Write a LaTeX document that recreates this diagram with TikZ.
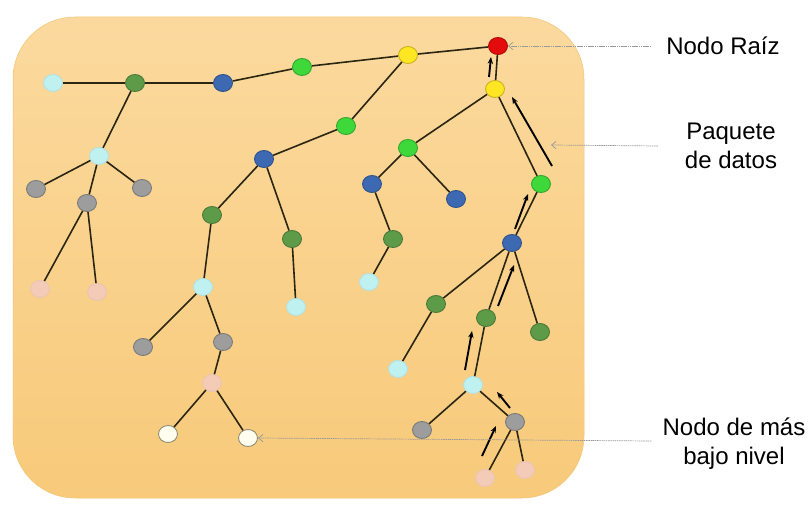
\documentclass[tikz,border=0pt]{standalone}
\usepackage{fontspec}
\setmainfont{Liberation Sans}
\usetikzlibrary{arrows.meta,positioning,shapes.geometric}
\definecolor{boxtop}{HTML}{FBD99E}
\definecolor{boxbot}{HTML}{F8CA7A}
\definecolor{nred}{HTML}{E30B0B}
\definecolor{nyel}{HTML}{FFE622}
\definecolor{nlgreen}{HTML}{3FD83B}
\definecolor{ndgreen}{HTML}{5E9B48}
\definecolor{nblue}{HTML}{3C69B2}
\definecolor{ncyan}{HTML}{BFF1F1}
\definecolor{ngray}{HTML}{9D9D9D}
\definecolor{npink}{HTML}{F3CBB7}
\definecolor{nwhite}{HTML}{FFFFF0}
\definecolor{edgec}{HTML}{2A2612}

\begin{document}
\begin{tikzpicture}[x=1pt, y=-1pt, nd/.style={ellipse, draw=#1!78!black, fill=#1, line width=0.9pt, minimum width=19pt, minimum height=17pt, inner sep=0pt}, ln/.style={draw=edgec, line width=1.6pt}, pkt/.style={line width=1.9pt, -{Stealth[length=2.4mm, width=1.9mm]}}, lead/.style={draw=gray!80, line width=0.7pt, dash pattern=on 1.5pt off 0.7pt, -{Straight Barb[length=1.6mm, width=2.6mm]}}, lab/.style={align=center, font=\fontsize{24}{29}\selectfont, inner sep=0pt}]
\useasboundingbox (0,0) rectangle (808,518);
\shade[top color=boxtop, bottom color=boxbot, draw=boxbot!90!brown, line width=0.5pt, rounded corners=62pt] (13,17) rectangle (584,498);

% nodes of the tree
\node[nd=nred] (root) at (498,46) {};
\node[nd=nyel] (y1) at (408,55) {}; \node[nd=nyel] (y2) at (495,89) {};
\node[nd=nlgreen] (g1) at (302,67) {}; \node[nd=nlgreen] (g2) at (346,126) {};
\node[nd=nlgreen] (g3) at (408,148) {}; \node[nd=nlgreen] (g4) at (541,184) {};
\node[nd=nblue] (b1) at (223,83) {}; \node[nd=nblue] (b2) at (264,159) {};
\node[nd=nblue] (b3) at (372,184) {}; \node[nd=nblue] (b4) at (456,199) {};
\node[nd=nblue] (b5) at (512,243) {};
\node[nd=ndgreen] (d1) at (135,83) {}; \node[nd=ndgreen] (d2) at (212,215) {};
\node[nd=ndgreen] (d3) at (292,239) {}; \node[nd=ndgreen] (d4) at (393,239) {};
\node[nd=ndgreen] (d5) at (436,304) {}; \node[nd=ndgreen] (d6) at (486,318) {};
\node[nd=ndgreen] (d7) at (540,332) {};
\node[nd=ncyan, draw=ncyan!85!gray] (c1) at (53,83) {}; \node[nd=ncyan, draw=ncyan!85!gray] (c2) at (99,156) {};
\node[nd=ncyan, draw=ncyan!85!gray] (c3) at (203,287) {}; \node[nd=ncyan, draw=ncyan!85!gray] (c4) at (296,307) {};
\node[nd=ncyan, draw=ncyan!85!gray] (c5) at (369,282) {}; \node[nd=ncyan, draw=ncyan!85!gray] (c6) at (398,369) {};
\node[nd=ncyan, draw=ncyan!85!gray] (c7) at (473,385) {};
\node[nd=ngray] (s1) at (36,189) {}; \node[nd=ngray] (s2) at (142,188) {};
\node[nd=ngray] (s3) at (87,203) {}; \node[nd=ngray] (s4) at (143,347) {};
\node[nd=ngray] (s5) at (223,342) {}; \node[nd=ngray] (s6) at (422,430) {};
\node[nd=ngray] (s7) at (515,422) {};
\node[nd=npink, draw=npink!92!gray] (p1) at (40,289) {}; \node[nd=npink, draw=npink!92!gray] (p2) at (97,292) {};
\node[nd=npink, draw=npink!92!gray] (p3) at (212,383) {}; \node[nd=npink, draw=npink!92!gray] (p4) at (485,478) {};
\node[nd=npink, draw=npink!92!gray] (p5) at (525,470) {};
\node[nd=nwhite, draw=gray!80!olive] (w1) at (168,434) {}; \node[nd=nwhite, draw=gray!80!olive] (w2) at (248,438) {};

% branches
\draw[ln] (c1) -- (d1); \draw[ln] (d1) -- (b1); \draw[ln] (b1) -- (g1); \draw[ln] (g1) -- (y1); \draw[ln] (y1) -- (root);
\draw[ln] (d1) -- (c2); \draw[ln] (c2) -- (s1); \draw[ln] (c2) -- (s2); \draw[ln] (c2) -- (s3); \draw[ln] (s3) -- (p1); \draw[ln] (s3) -- (p2);
\draw[ln] (y1) -- (g2); \draw[ln] (g2) -- (b2); \draw[ln] (b2) -- (d2); \draw[ln] (b2) -- (d3); \draw[ln] (d2) -- (c3); \draw[ln] (d3) -- (c4);
\draw[ln] (c3) -- (s4); \draw[ln] (c3) -- (s5); \draw[ln] (s5) -- (p3); \draw[ln] (p3) -- (w1); \draw[ln] (p3) -- (w2);
\draw[ln] (root) -- (y2); \draw[ln] (y2) -- (g3); \draw[ln] (y2) -- (g4); \draw[ln] (g3) -- (b3); \draw[ln] (g3) -- (b4); \draw[ln] (b3) -- (d4); \draw[ln] (d4) -- (c5);
\draw[ln] (g4) -- (b5); \draw[ln] (b5) -- (d5); \draw[ln] (b5) -- (d6); \draw[ln] (b5) -- (d7); \draw[ln] (d5) -- (c6); \draw[ln] (d6) -- (c7);
\draw[ln] (c7) -- (s6); \draw[ln] (c7) -- (s7); \draw[ln] (s7) -- (p4); \draw[ln] (s7) -- (p5);

% data packets going up
\foreach \ax/\ay/\bx/\by in {489/77/491/57, 552/166/512/97, 515/229/528/194, 498/306/514/265, 465/370/472/331, 510/408/497/392, 482/456/496/426}
  \draw[pkt] (\ax,\ay) -- (\bx,\by);

% labels
\node[lab] (lr) at (723,46) {Nodo Raíz};
\node[lab] (lp) at (731,146) {Paquete\\de datos};
\node[lab] (lb) at (734,444) {Nodo de más\\bajo nivel};
\coordinate (pk) at (551,145);
\draw[lead] ([xshift=-15pt]lr.west) -- (root.east);
\draw[lead] ([xshift=-27pt]lp.west) -- (pk);
\draw[lead] ([xshift=-11pt,yshift=3pt]lb.west) -- (w2.east);
\end{tikzpicture}
\end{document}
